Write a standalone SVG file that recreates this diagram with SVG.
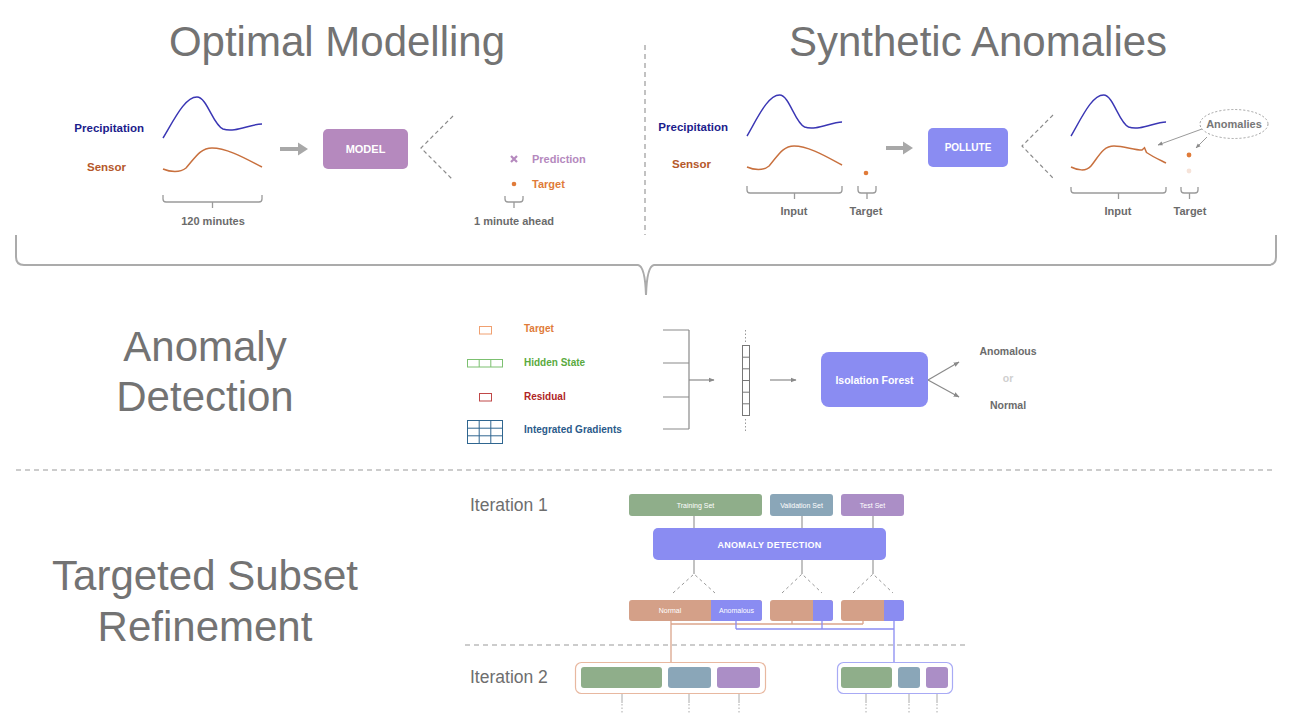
<svg xmlns="http://www.w3.org/2000/svg" width="1292" height="728" viewBox="0 0 1292 728">
<defs>
<style>
.h{font-family:"Liberation Sans",Arial,sans-serif;font-size:42px;fill:#737373;text-anchor:middle}
.it{font-family:"Liberation Sans",Arial,sans-serif;font-size:17.5px;fill:#6e6e6e}
.b{font-family:"Liberation Sans",Arial,sans-serif;font-weight:bold}
.lbl{font-size:11px;fill:#6b6b6b;text-anchor:middle}
.wt{fill:#ffffff;text-anchor:middle}
.sm{font-family:"Liberation Sans",Arial,sans-serif;font-size:7px;fill:#ffffff;text-anchor:middle}
.blue{fill:none;stroke:#3a36b4;stroke-width:1.5}
.orng{fill:none;stroke:#c8703e;stroke-width:1.5}
.br{fill:none;stroke:#9a9a9a;stroke-width:1.3}
.dash{fill:none;stroke:#8a8a8a;stroke-width:1.2;stroke-dasharray:4 3}
.conn{fill:none;stroke:#8a8a8a;stroke-width:1.2}
.gline{fill:none;stroke:#9a9a9a;stroke-width:1.2}
</style>
<marker id="ah" viewBox="0 0 10 10" refX="9" refY="5" markerWidth="5" markerHeight="5" orient="auto">
<path d="M0,1 L10,5 L0,9 z" fill="#8a8a8a"/>
</marker>
<path id="bc" d="M0,0 C12,-20 22,-41 34,-41 C44,-41 50,-13 60,-9 C72,-5 87,-14 99,-14"/>
<path id="oc" d="M0,31 C7,34 17,35 23,30 C32,20 37,10 49,10 C65,10 85,22 99,29"/>
</defs>
<rect x="0" y="0" width="1292" height="728" fill="#ffffff"/>

<!-- Headings -->
<g id="headings">
<text class="h" x="337" y="56">Optimal Modelling</text>
<text class="h" x="978" y="56">Synthetic Anomalies</text>
<text class="h" x="205" y="361">Anomaly</text>
<text class="h" x="205" y="411">Detection</text>
<text class="h" x="205" y="590">Targeted Subset</text>
<text class="h" x="205" y="641">Refinement</text>
</g>

<!-- separators -->
<g id="separators">
<line x1="645" y1="45" x2="645" y2="235" stroke="#9a9a9a" stroke-width="1.2" stroke-dasharray="5 4"/>
<path d="M16,235 L16,257 Q16,265 24,265 L638,265 Q645,266 646,295 Q647,266 654,265 L1268,265 Q1276,265 1276,257 L1276,235" fill="none" stroke="#ababab" stroke-width="2"/>
<line x1="16" y1="470" x2="1276" y2="470" stroke="#9a9a9a" stroke-width="1.2" stroke-dasharray="5 4"/>
<line x1="465" y1="645" x2="965" y2="645" stroke="#9a9a9a" stroke-width="1.2" stroke-dasharray="5 4"/>
</g>

<!-- Optimal modelling -->
<g id="om-inputs">
<text class="b" x="144" y="132" font-size="11.5" fill="#1c1c8c" text-anchor="end">Precipitation</text>
<text class="b" x="126" y="171" font-size="11.5" fill="#b5582a" text-anchor="end">Sensor</text>
<use href="#bc" x="163" y="138" class="blue"/>
<use href="#oc" x="163" y="138" class="orng"/>
<path class="br" d="M163,195 V199 Q163,202 166,202 H259 Q262,202 262,199 V195 M212.5,202 V208"/>
<text class="b lbl" x="213" y="225">120 minutes</text>
</g>
<g id="om-arrow">
<line x1="280" y1="149" x2="300" y2="149" stroke="#a8a8a8" stroke-width="4"/>
<path d="M298,142.5 L308,149 L298,155.5 z" fill="#a8a8a8"/>
</g>
<g id="model">
<rect x="323" y="129" width="85" height="40" rx="5" fill="#b589be"/>
<text class="b wt" x="365.5" y="153" font-size="11">MODEL</text>
</g>
<g id="om-output">
<path class="dash" d="M453,116 L421,148 L453,180"/>
<path d="M511,156 L517,162 M517,156 L511,162" stroke="#b589be" stroke-width="2.2"/>
<text class="b" x="532" y="163" font-size="11" fill="#b589be">Prediction</text>
<circle cx="514" cy="184" r="2.3" fill="#e07b39"/>
<text class="b" x="532" y="188" font-size="11" fill="#e07b39">Target</text>
<path class="br" d="M505,196 V199 Q505,202 508,202 H520 Q523,202 523,199 V196 M514,202 V208"/>
<text class="b lbl" x="514" y="225">1 minute ahead</text>
</g>

<!-- Synthetic anomalies -->
<g id="sa-inputs">
<text class="b" x="728" y="131" font-size="11.5" fill="#1c1c8c" text-anchor="end">Precipitation</text>
<text class="b" x="711" y="168" font-size="11.5" fill="#b5582a" text-anchor="end">Sensor</text>
<g transform="translate(747,136) scale(0.96,1)">
<use href="#bc" class="blue" style="stroke-width:1.5"/>
<use href="#oc" class="orng" style="stroke-width:1.5"/>
</g>
<circle cx="866" cy="173" r="2.3" fill="#e07b39"/>
<path class="br" d="M747,186 V190 Q747,193 750,193 H839 Q842,193 842,190 V186 M794.5,193 V199"/>
<path class="br" d="M858,186 V190 Q858,193 861,193 H873 Q876,193 876,190 V186 M867,193 V199"/>
<text class="b lbl" x="794" y="215">Input</text>
<text class="b lbl" x="866" y="215">Target</text>
</g>
<g id="sa-arrow">
<line x1="886" y1="148" x2="905" y2="148" stroke="#a8a8a8" stroke-width="4"/>
<path d="M903,141.5 L913,148 L903,154.5 z" fill="#a8a8a8"/>
</g>
<g id="pollute">
<rect x="928" y="128" width="80" height="39" rx="5" fill="#8a8cf2"/>
<text class="b wt" x="968" y="151" font-size="10">POLLUTE</text>
</g>
<g id="sa-output">
<path class="dash" d="M1053,115 L1022,146 L1053,178"/>
<use href="#bc" x="1071" y="136" class="blue" transform="translate(1071,0) scale(0.96,1) translate(-1071,0)"/>
<path class="orng" d="M1071,167 C1077,170 1086,172 1091,166 C1099,156 1103,146 1114,146 C1124,146 1134,150 1142,150 L1144.5,147.8 L1146.5,152.5 C1153,157 1160,160 1166,163"/>
<circle cx="1189" cy="155" r="2.4" fill="#e07b39"/>
<circle cx="1189" cy="171" r="2.4" fill="#f6e3d9"/>
<path class="br" d="M1071,187 V190 Q1071,193 1074,193 H1163 Q1166,193 1166,190 V187 M1118.5,193 V199"/>
<path class="br" d="M1181,187 V190 Q1181,193 1184,193 H1195 Q1198,193 1198,190 V187 M1189.5,193 V199"/>
<text class="b lbl" x="1118" y="215">Input</text>
<text class="b lbl" x="1190" y="215">Target</text>
</g>
<g id="anomalies">
<ellipse cx="1234" cy="124" rx="34" ry="14.5" fill="none" stroke="#a0a0a0" stroke-width="1" stroke-dasharray="2 2"/>
<text class="b" x="1234" y="128" font-size="11" fill="#777777" text-anchor="middle">Anomalies</text>
<line x1="1202" y1="129" x2="1158" y2="145" stroke="#9a9a9a" stroke-width="1" marker-end="url(#ah)"/>
<line x1="1207" y1="137" x2="1196" y2="148" stroke="#9a9a9a" stroke-width="1" marker-end="url(#ah)"/>
</g>

<!-- Anomaly detection -->
<g id="ad-legend">
<rect x="479.5" y="326.5" width="12" height="7.5" fill="none" stroke="#f0a070" stroke-width="1"/>
<text class="b" x="524" y="332" font-size="10" fill="#e07b39">Target</text>
<g fill="none" stroke="#7cc070" stroke-width="1">
<rect x="467.5" y="359.5" width="35" height="7.5"/>
<line x1="479.2" y1="359.5" x2="479.2" y2="367"/>
<line x1="490.8" y1="359.5" x2="490.8" y2="367"/>
</g>
<text class="b" x="524" y="366" font-size="10" fill="#5aaa40">Hidden State</text>
<rect x="479.5" y="393.5" width="12" height="7.5" fill="none" stroke="#c04848" stroke-width="1"/>
<text class="b" x="524" y="400" font-size="10" fill="#b02525">Residual</text>
<g fill="none" stroke="#2f6690" stroke-width="1">
<rect x="467.5" y="420.5" width="35" height="23"/>
<line x1="479.2" y1="420.5" x2="479.2" y2="443.5"/>
<line x1="490.8" y1="420.5" x2="490.8" y2="443.5"/>
<line x1="467.5" y1="428.2" x2="502.5" y2="428.2"/>
<line x1="467.5" y1="435.8" x2="502.5" y2="435.8"/>
</g>
<text class="b" x="524" y="433" font-size="10" fill="#2a5a8a">Integrated Gradients</text>
</g>
<g id="ad-connectors">
<path class="conn" d="M663,330 H689 M663,363 H689 M663,397 H689 M663,429 H689 M689,330 V429"/>
<line x1="689" y1="380" x2="714" y2="380" class="conn" marker-end="url(#ah)"/>
<line x1="770" y1="380" x2="796" y2="380" class="conn" marker-end="url(#ah)"/>
<line x1="928" y1="380" x2="959" y2="362" class="conn" marker-end="url(#ah)"/>
<line x1="928" y1="380" x2="959" y2="397" class="conn" marker-end="url(#ah)"/>
</g>
<g id="ad-vector">
<line x1="745.5" y1="330" x2="745.5" y2="342" stroke="#999" stroke-width="1" stroke-dasharray="1.5 2"/>
<rect x="742.5" y="345.5" width="7" height="70" fill="none" stroke="#777" stroke-width="1"/>
<path d="M742.5,357.2 H749.5 M742.5,368.8 H749.5 M742.5,380.5 H749.5 M742.5,392.2 H749.5 M742.5,403.8 H749.5" stroke="#777" stroke-width="1"/>
<line x1="745.5" y1="419" x2="745.5" y2="431" stroke="#999" stroke-width="1" stroke-dasharray="1.5 2"/>
</g>
<g id="isolation-forest">
<rect x="821" y="352" width="107" height="55" rx="8" fill="#8a8cf2"/>
<text class="b wt" x="874.5" y="384" font-size="10.5">Isolation Forest</text>
</g>
<g id="ad-outputs">
<text class="b" x="1008" y="355" font-size="10.5" fill="#6b6b6b" text-anchor="middle">Anomalous</text>
<text class="b" x="1008" y="382" font-size="10.5" fill="#cfcfcf" text-anchor="middle">or</text>
<text class="b" x="1008" y="409" font-size="10.5" fill="#6b6b6b" text-anchor="middle">Normal</text>
</g>

<!-- Targeted subset refinement -->
<text class="it" x="470" y="511">Iteration 1</text>
<text class="it" x="470" y="683">Iteration 2</text>
<g id="tsr-connectors">
<path class="gline" d="M694,516 V528 M802,516 V528 M873,516 V528 M694,560 V574 M802,560 V574 M873,560 V574"/>
<path fill="none" stroke="#999" stroke-width="1" stroke-dasharray="3 3" d="M673,593 L694,574 L715,593 M782,593 L802,574 L822,593 M853,593 L873,574 L893,593"/>
<path fill="none" stroke="#dba58c" stroke-width="1.3" d="M792,621 V624 M863,621 V624 M671,624 H863 M671,621 V662"/>
<path fill="none" stroke="#8a8cf2" stroke-width="1.3" d="M736,621 V629 M822,621 V629 M736,629 H894 M894,621 V662"/>
<path fill="none" stroke="#aaa" stroke-width="1" d="M622,693 V703 M689,693 V703 M739,693 V703 M866,693 V703 M909,693 V703 M937,693 V703"/>
<path fill="none" stroke="#aaa" stroke-width="1" stroke-dasharray="1.5 2" d="M622,704 V713 M689,704 V713 M739,704 V713 M866,704 V713 M909,704 V713 M937,704 V713"/>
</g>
<g id="training-set">
<rect x="629" y="494" width="133" height="22" rx="3" fill="#8fae8a"/>
<text class="sm" x="695.5" y="507.5">Training Set</text>
</g>
<g id="validation-set">
<rect x="770" y="494" width="63" height="22" rx="3" fill="#8aa6b8"/>
<text class="sm" x="801.5" y="507.5">Validation Set</text>
</g>
<g id="test-set">
<rect x="841" y="494" width="63" height="22" rx="3" fill="#ab8ec6"/>
<text class="sm" x="872.5" y="507.5">Test Set</text>
</g>
<g id="anomaly-detection">
<rect x="653" y="528" width="233" height="32" rx="5" fill="#8a8cf2"/>
<text class="b wt" x="769.5" y="547.5" font-size="9" letter-spacing="0.3">ANOMALY DETECTION</text>
</g>
<g id="split-training">
<rect x="629" y="600" width="133" height="21" rx="3" fill="#d4a088"/>
<path d="M711,600 H759 Q762,600 762,603 V618 Q762,621 759,621 H711 z" fill="#8a8cf2"/>
<text class="sm" x="670" y="613">Normal</text>
<text class="sm" x="736.5" y="613">Anomalous</text>
</g>
<g id="split-validation">
<rect x="770" y="600" width="63" height="21" rx="3" fill="#d4a088"/>
<path d="M813,600 H830 Q833,600 833,603 V618 Q833,621 830,621 H813 z" fill="#8a8cf2"/>
</g>
<g id="split-test">
<rect x="841" y="600" width="63" height="21" rx="3" fill="#d4a088"/>
<path d="M884,600 H901 Q904,600 904,603 V618 Q904,621 901,621 H884 z" fill="#8a8cf2"/>
</g>
<g id="iter2-normal">
<rect x="575.5" y="662.5" width="190" height="31" rx="6" fill="none" stroke="#e8b8a0" stroke-width="1.2"/>
<rect x="581" y="667" width="81" height="21" rx="3" fill="#8fae8a"/>
<rect x="668" y="667" width="43" height="21" rx="3" fill="#8aa6b8"/>
<rect x="717" y="667" width="43" height="21" rx="3" fill="#ab8ec6"/>
</g>
<g id="iter2-anomalous">
<rect x="837.5" y="662.5" width="115" height="31" rx="6" fill="none" stroke="#a8aaf5" stroke-width="1.2"/>
<rect x="841" y="667" width="51" height="21" rx="3" fill="#8fae8a"/>
<rect x="898" y="667" width="22" height="21" rx="3" fill="#8aa6b8"/>
<rect x="926" y="667" width="22" height="21" rx="3" fill="#ab8ec6"/>
</g>
</svg>
